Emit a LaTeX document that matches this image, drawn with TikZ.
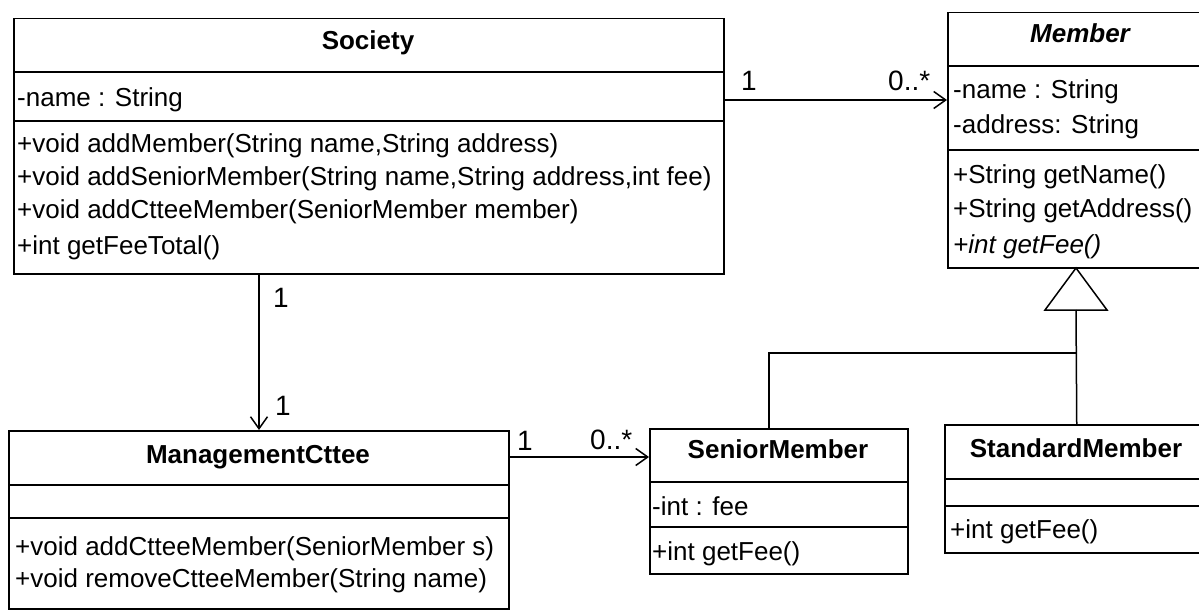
\documentclass[tikz,border=0pt]{standalone}
\usepackage{fontspec}
\setmainfont{Liberation Sans}
\usetikzlibrary{arrows.meta}
\begin{document}
\begin{tikzpicture}[x=1pt,y=-1pt,
  box/.style={draw, line width=1.5pt, inner sep=0pt, anchor=north west},
  div/.style={line width=1.5pt},
  txt/.style={anchor=base west, inner sep=0pt, font=\fontsize{26}{30}\selectfont},
  ttl/.style={anchor=base, inner sep=0pt, font=\fontsize{26}{30}\selectfont\bfseries},
  mult/.style={anchor=base west, inner sep=0pt, font=\fontsize{28}{32}\selectfont},
  assoc/.style={line width=1.5pt, -{Straight Barb[length=12pt,width=17pt,line width=1.5pt]}},
  gen/.style={line width=1.5pt}]
\useasboundingbox (0,0) rectangle (1199,610);
\clip (0,0) rectangle (1199,610);

% Society
\node[box, minimum width=710pt, minimum height=255pt] (soc) at (13,18) {};
\draw[div] (soc.west |- 0,72) -- (soc.east |- 0,72);
\draw[div] (soc.west |- 0,121) -- (soc.east |- 0,121);
\node[ttl] (socT) at (368,49) {Society};
\node[txt] (socA) at (17,106) {-name : String};
\node[txt] (socM1) at (17,152) {+void addMember(String name,String address)};
\node[txt] (socM2) at (17,185) {+void addSeniorMember(String name,String address,int fee)};
\node[txt] (socM3) at (17,218) {+void addCtteeMember(SeniorMember member)};
\node[txt] (socM4) at (17,254) {+int getFeeTotal()};

% Member
\node[box, minimum width=266pt, minimum height=255pt] (mem) at (947,12) {};
\draw[div] (mem.west |- 0,66) -- (mem.east |- 0,66);
\draw[div] (mem.west |- 0,150) -- (mem.east |- 0,150);
\node[ttl, font=\fontsize{26}{30}\selectfont\bfseries\itshape] (memT) at (1080,43) {Member};
\node[txt] (memA1) at (953,99) {-name : String};
\node[txt] (memA2) at (953,133) {-address: String};
\node[txt] (memM1) at (953,183) {+String getName()};
\node[txt] (memM2) at (953,217) {+String getAddress()};
\node[txt, font=\fontsize{26}{30}\selectfont\itshape] (memM3) at (953,253) {+int getFee()};

% ManagementCttee
\node[box, minimum width=500pt, minimum height=178pt] (mgmt) at (8,430) {};
\draw[div] (mgmt.west |- 0,485) -- (mgmt.east |- 0,485);
\draw[div] (mgmt.west |- 0,518) -- (mgmt.east |- 0,518);
\node[ttl] (mgmtT) at (258,463) {ManagementCttee};
\node[txt] (mgmtM1) at (15,555) {+void addCtteeMember(SeniorMember s)};
\node[txt] (mgmtM2) at (15,587) {+void removeCtteeMember(String name)};

% SeniorMember
\node[box, minimum width=258pt, minimum height=145pt] (senm) at (649,428) {};
\draw[div] (senm.west |- 0,482) -- (senm.east |- 0,482);
\draw[div] (senm.west |- 0,527) -- (senm.east |- 0,527);
\node[ttl] (senmT) at (778,458) {SeniorMember};
\node[txt] (senmA) at (652,515) {-int : fee};
\node[txt] (senmM) at (652,560) {+int getFee()};

% StandardMember
\node[box, minimum width=264pt, minimum height=128pt] (stdm) at (944,424) {};
\draw[div] (stdm.west |- 0,479) -- (stdm.east |- 0,479);
\draw[div] (stdm.west |- 0,506) -- (stdm.east |- 0,506);
\node[ttl] (stdmT) at (1076,457) {StandardMember};
\node[txt] (stdmM) at (950,538) {+int getFee()};

% Associations
\draw[assoc] (soc.east |- 0,100) -- (mem.west |- 0,100);
\node[mult] (m1) at (741,90) {1};
\node[mult] (m2) at (888,90) {0..*};

\draw[assoc] (soc.south -| 259,0) -- (mgmt.north -| 259,0);
\node[mult] (m3) at (273,307) {1};
\node[mult] (m4) at (275,415) {1};

\draw[assoc] (mgmt.east |- 0,457) -- (senm.west |- 0,457);
\node[mult] (m5) at (517,450) {1};
\node[mult] (m6) at (590,449) {0..*};

% Generalization
\coordinate (apex) at (1076,268);
\coordinate (tb) at (1076,310);
\coordinate (j) at (1076,353);
\draw[gen] (apex) -- (1045,310) -- (1107,310) -- cycle;
\draw[gen] (stdm.north) -- (tb);
\draw[gen] ([xshift=-10pt]senm.north) |- (j);
\end{tikzpicture}
\end{document}
